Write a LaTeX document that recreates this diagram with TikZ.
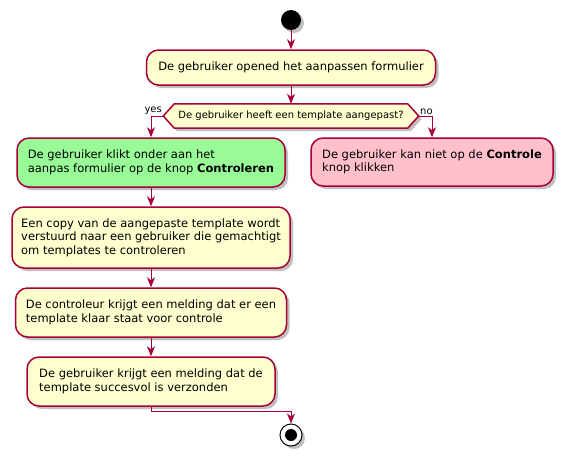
\documentclass[tikz,border=0pt]{standalone}
\usepackage{fontspec}
\setmainfont{DejaVu Sans}
\usetikzlibrary{arrows.meta,shadows,backgrounds}
\definecolor{umlred}{HTML}{A80036}
\definecolor{umlfill}{HTML}{FEFECE}
\definecolor{yesgreen}{HTML}{98FB98}
\definecolor{nopink}{HTML}{FFC0CB}

\begin{document}
\begin{tikzpicture}[x=1pt,y=-1pt,
  >={Stealth[length=10pt,width=8pt,inset=3pt]},
  flow/.style={->,umlred,line width=1pt},
  shade box/.style={drop shadow={shadow xshift=3pt,shadow yshift=-3pt,opacity=0.25,fill=black}},
  action/.style={draw=umlred,fill=umlfill,line width=1.5pt,rounded corners=12pt,
    align=left,inner sep=0pt,font=\fontsize{11.5}{13.5}\selectfont,shade box},
  decision/.style={draw=umlred,fill=umlfill,line width=1.5pt,shade box},
  branch/.style={inner sep=1pt,text=black,font=\fontsize{10}{12}\selectfont}]
 \useasboundingbox (0,0) rectangle (568,463);
 % start and first action
 \node[circle,fill=black,minimum size=20pt,inner sep=0pt,shade box] (start) at (291,20) {};
 \node[action,minimum width=289pt,minimum height=35pt] (open) at (291,67.5)
   {De gebruiker opened het aanpassen formulier};
 \node[inner sep=0pt,minimum width=255pt,minimum height=24pt,font=\fontsize{10}{12}\selectfont] (check) at (291,116)
   {De gebruiker heeft een template aangepast?};
 \begin{scope}[on background layer]
  \draw[decision] (check.west) -- ([xshift=11pt]check.north west) -- ([xshift=-11pt]check.north east)
    -- (check.east) -- ([xshift=-11pt]check.south east) -- ([xshift=11pt]check.south west) -- cycle;
 \end{scope}
 % the two branches
 \node[action,fill=yesgreen,minimum width=268pt,minimum height=49pt] (yesact) at (151,162.5)
   {De gebruiker klikt onder aan het\\aanpas formulier op de knop \textbf{Controleren}};
 \node[action,fill=nopink,minimum width=242pt,minimum height=48pt] (noact) at (432,162)
   {De gebruiker kan niet op de \textbf{Controle}\\knop klikken};
 \node[action,minimum width=278pt,minimum height=61pt] (copy) at (151,237.5)
   {Een copy van de aangepaste template wordt\\verstuurd naar een gebruiker die gemachtigt\\om templates te controleren};
 \node[action,minimum width=271pt,minimum height=49pt] (notify) at (151,312.5)
   {De controleur krijgt een melding dat er een\\template klaar staat voor controle};
 \node[action,minimum width=248pt,minimum height=49pt] (done) at (151,381.5)
   {De gebruiker krijgt een melding dat de\\template succesvol is verzonden};
 \node[circle,draw=black,fill=white,line width=1pt,minimum size=22pt,inner sep=0pt,shade box] (stop) at (291,435) {};
 \fill (stop.center) circle (6pt);
 % connectors
 \draw[flow] (start) -- (open);
 \draw[flow] (open) -- (check);
 \draw[flow] (check.west) -| (yesact.north) node[branch,pos=0,above left] {yes};
 \draw[flow] (check.east) -| (noact.north) node[branch,pos=0,above right] {no};
 \draw[flow] (yesact) -- (copy);
 \draw[flow] (copy) -- (notify);
 \draw[flow] (notify) -- (done);
 \draw[flow] (done.south) -- ++(0,5) -| (stop.north);
\end{tikzpicture}
\end{document}
